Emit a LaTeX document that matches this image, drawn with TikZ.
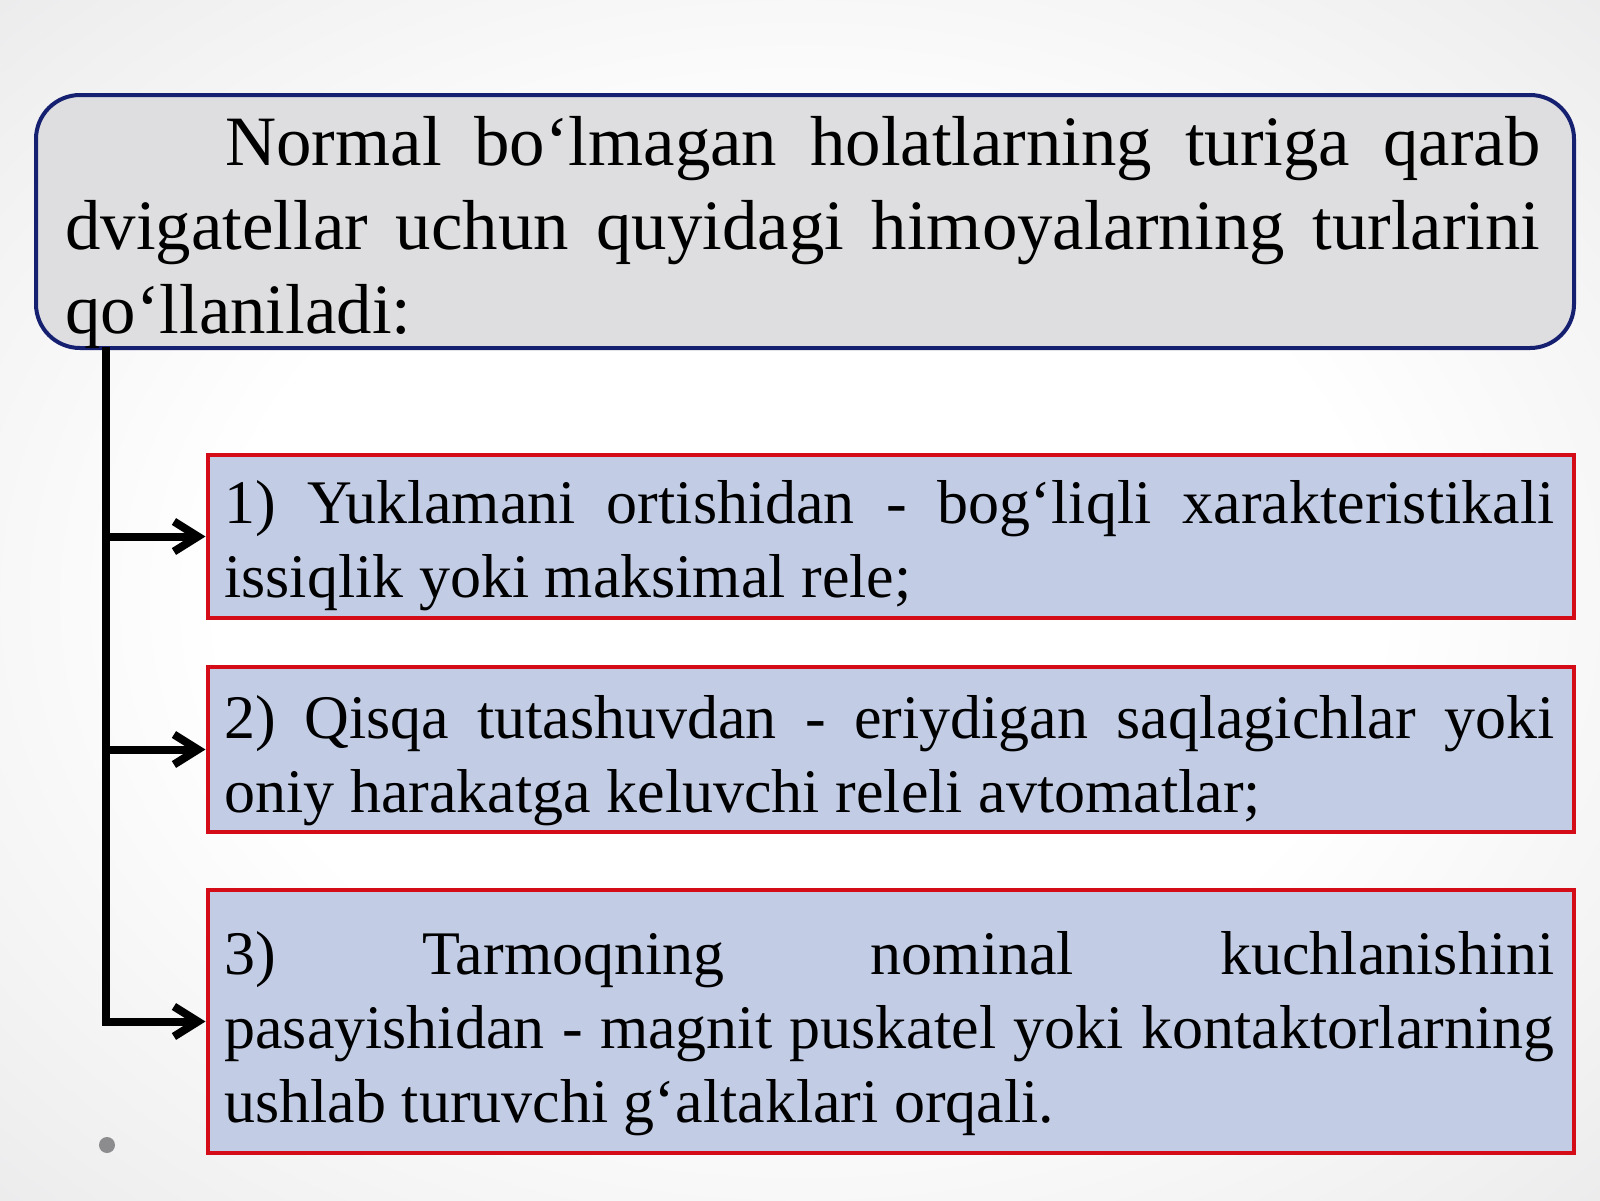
\documentclass[tikz,border=0pt]{standalone}
\usepackage{fontspec}
\setmainfont{Liberation Serif}
\usetikzlibrary{arrows.meta}
\definecolor{navy}{RGB}{22,32,112}
\definecolor{topfill}{RGB}{222,222,224}
\definecolor{boxfill}{RGB}{194,204,228}
\definecolor{boxred}{RGB}{212,12,24}
\definecolor{dotgray}{RGB}{140,140,142}
\pgfdeclareradialshading{bgshade}{\pgfpoint{0bp}{0bp}}{%
  color(0bp)=(white); color(18bp)=(white); color(32bp)=(rgb,255:red,240;green,240;blue,241);
  color(50bp)=(rgb,255:red,218;green,218;blue,220); color(72bp)=(rgb,255:red,205;green,205;blue,207)}
\newcommand{\nohyph}{\tolerance=10000 \hyphenpenalty=10000 \exhyphenpenalty=10000 }
\begin{document}
\begin{tikzpicture}[x=0.5pt,y=-0.5pt,
  topframe/.style={draw=navy,line width=2pt,fill=topfill,rounded corners=22pt,
    minimum width=769pt,minimum height=126.5pt,inner sep=0pt},
  itemframe/.style={draw=boxred,line width=2pt,fill=boxfill,
    minimum width=683pt,inner sep=0pt},
  toptext/.style={anchor=base west,inner sep=0pt,text width=737.5pt,align=justify,
    font=\fontsize{35.4pt}{42pt}\selectfont},
  itemtext/.style={anchor=base west,inner sep=0pt,text width=665pt,align=justify,
    font=\fontsize{31pt}{37pt}\selectfont},
  conn/.style={line width=4pt,draw=black,-{Straight Barb[length=12pt,width=15pt]}}]
\useasboundingbox (0,0) rectangle (1600,1200);
\shade[shading=bgshade] (0,0) rectangle (1600,1200);
% top box
\node[topframe] (topbox) at (805,221.5) {};
\node[toptext] (toptxt) at (65,165) {\nohyph\hspace*{80pt}Normal bo‘lmagan holatlarning turiga qarab\linebreak dvigatellar uchun quyidagi himoyalarning turlarini\linebreak qo‘llaniladi:};
% item boxes
\node[itemframe,minimum height=81.5pt] (b1) at (890.5,536.5) {};
\node[itemframe,minimum height=82.5pt] (b2) at (890.5,749.5) {};
\node[itemframe,minimum height=131.5pt] (b3) at (890.5,1021.5) {};
\node[itemtext] (t1) at (224,523) {\nohyph 1) Yuklamani ortishidan - bog‘liqli xarakteristikali\linebreak issiqlik yoki maksimal rele;};
\node[itemtext] (t2) at (224,738) {\nohyph 2) Qisqa tutashuvdan - eriydigan saqlagichlar yoki\linebreak oniy harakatga keluvchi releli avtomatlar;};
\node[itemtext] (t3) at (224,974) {\nohyph 3) Tarmoqning nominal kuchlanishini\linebreak pasayishidan - magnit puskatel yoki kontaktorlarning\linebreak ushlab turuvchi g‘altaklari orqali.};
% connectors
\coordinate (spinetop) at (106,347);
\draw[conn] (spinetop) |- (b3.west);
\draw[conn] (spinetop |- b1.west) -- (b1.west);
\draw[conn] (spinetop |- b2.west) -- (b2.west);
% stray bullet
\fill[dotgray] (107,1145) circle (4pt);
\end{tikzpicture}
\end{document}
